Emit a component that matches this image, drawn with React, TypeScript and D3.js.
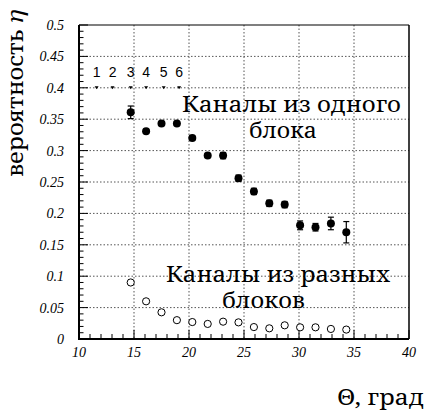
import React from "react";
import * as d3 from "d3";

// Angle (degrees) for each measured point
const angles = [14.7, 16.1, 17.5, 18.9, 20.3, 21.7, 23.1, 24.5, 25.9, 27.3, 28.7, 30.1, 31.5, 32.9, 34.3];
// Probability for channels within one block, and its uncertainty
const sameBlock = [0.361, 0.331, 0.343, 0.343, 0.32, 0.292, 0.292, 0.256, 0.235, 0.216, 0.214, 0.181, 0.178, 0.184, 0.17];
const sameBlockErr = [0.01, 0.003, 0.003, 0.003, 0.003, 0.003, 0.005, 0.005, 0.005, 0.005, 0.005, 0.007, 0.006, 0.01, 0.017];
// Probability for channels from different blocks
const diffBlock = [0.09, 0.06, 0.0425, 0.03, 0.027, 0.024, 0.0276, 0.0265, 0.019, 0.017, 0.0218, 0.0186, 0.0186, 0.016, 0.015];
// Block positions marked along η = 0.4
const blockLabels = ["1", "2", "3", "4", "5", "6"];
const blockAngles = [11.6, 13.05, 14.7, 16.1, 17.7, 19.1];
const blockLevel = 0.4;

const xTicks = [10, 15, 20, 25, 30, 35, 40];
const yTicks = [0, 0.05, 0.1, 0.15, 0.2, 0.25, 0.3, 0.35, 0.4, 0.45, 0.5];

const W = 427;
const H = 416;
const L = 79, R = 409, T = 25, B = 339;

const numFont = "Liberation Serif";
const textFont = "Noto Serif";

export default function App() {
  const x = d3.scaleLinear().domain([10, 40]).range([L, R]);
  const y = d3.scaleLinear().domain([0, 0.5]).range([B, T]);

  const xMinor = d3.range(10, 40.001, 1);
  const yMinor = d3.range(0, 0.5001, 0.01);
  const txt = { fontFamily: textFont, fontSize: 21 };

  return (
    <svg width={W} height={H} style={{ position: "absolute", left: 0, top: 0, background: "#fff" }}>
      {/* grid */}
      {xTicks.slice(1, -1).map((t) => (
        <line key={"gx" + t} x1={x(t)} x2={x(t)} y1={T} y2={B} stroke="#555" strokeWidth={1} strokeDasharray="1.5,2" />
      ))}
      {yTicks.slice(1, -1).map((t) => (
        <line key={"gy" + t} x1={L} x2={R} y1={y(t)} y2={y(t)} stroke="#555" strokeWidth={1} strokeDasharray="1.5,2" />
      ))}

      {/* frame */}
      <line x1={L} x2={R} y1={T} y2={T} stroke="#000" strokeWidth={1.2} />
      <line x1={R} x2={R} y1={T} y2={B} stroke="#000" strokeWidth={1.5} />
      <line x1={L} x2={L} y1={T} y2={B + 1} stroke="#000" strokeWidth={2} />
      <line x1={L - 1} x2={R} y1={B} y2={B} stroke="#000" strokeWidth={2} />

      {/* ticks */}
      {yMinor.map((v, i) => {
        const major = i % 5 === 0;
        return <line key={"yt" + i} x1={L} x2={L + (major ? 9 : 4.5)} y1={y(v)} y2={y(v)} stroke="#000" strokeWidth={1} />;
      })}
      {xMinor.map((v, i) => {
        const major = i % 5 === 0;
        return <line key={"xt" + i} x1={x(v)} x2={x(v)} y1={B} y2={B - (major ? 9 : 5)} stroke="#000" strokeWidth={1} />;
      })}

      {/* tick labels */}
      {yTicks.map((t) => (
        <text key={"yl" + t} x={64} y={y(t)} dy="0.35em" textAnchor="end" style={{ fontFamily: numFont, fontStyle: "italic", fontSize: 14 }}>
          {t === 0 ? "0" : String(t)}
        </text>
      ))}
      {xTicks.map((t) => (
        <text key={"xl" + t} x={x(t)} y={357} textAnchor="middle" style={{ fontFamily: numFont, fontStyle: "italic", fontSize: 14 }}>
          {t}
        </text>
      ))}

      {/* block markers */}
      {blockAngles.map((a, i) => (
        <g key={"bk" + i}>
          <path d={`M${x(a) - 2},${y(blockLevel) - 1.5} L${x(a) + 2},${y(blockLevel) - 1.5} L${x(a)},${y(blockLevel) + 1.5} Z`} fill="#000" />
          <text x={x(a)} y={y(blockLevel) - 11} textAnchor="middle" style={{ fontFamily: "Liberation Sans", fontSize: 14 }}>
            {blockLabels[i]}
          </text>
        </g>
      ))}

      {/* same-block points with error bars */}
      {angles.map((a, i) => {
        const cx = x(a);
        const y1 = y(sameBlock[i] + sameBlockErr[i]);
        const y2 = y(sameBlock[i] - sameBlockErr[i]);
        return (
          <g key={"sb" + i}>
            <line x1={cx} x2={cx} y1={y1} y2={y2} stroke="#000" strokeWidth={1.2} />
            <line x1={cx - 3} x2={cx + 3} y1={y1} y2={y1} stroke="#000" strokeWidth={1.2} />
            <line x1={cx - 3} x2={cx + 3} y1={y2} y2={y2} stroke="#000" strokeWidth={1.2} />
            <circle cx={cx} cy={y(sameBlock[i])} r={4} fill="#000" />
          </g>
        );
      })}

      {/* different-block points */}
      {angles.map((a, i) => (
        <circle key={"db" + i} cx={x(a)} cy={y(diffBlock[i])} r={3.6} fill="#fff" stroke="#000" strokeWidth={1} />
      ))}

      {/* annotations */}
      <text x={182} y={112} textLength={219} lengthAdjust="spacingAndGlyphs" style={txt}>Каналы из одного</text>
      <text x={249} y={138} textLength={68} lengthAdjust="spacingAndGlyphs" style={txt}>блока</text>
      <text x={166} y={282} textLength={224} lengthAdjust="spacingAndGlyphs" style={txt}>Каналы из разных</text>
      <text x={222} y={308} textLength={83} lengthAdjust="spacingAndGlyphs" style={txt}>блоков</text>

      {/* axis titles */}
      <text transform="translate(23,177) rotate(-90)" textLength={167} lengthAdjust="spacingAndGlyphs" style={txt}>
        вероятность <tspan style={{ fontStyle: "italic" }}>η</tspan>
      </text>
      <text x={337} y={405} textLength={87} lengthAdjust="spacingAndGlyphs" style={txt}>Θ, град</text>
    </svg>
  );
}
